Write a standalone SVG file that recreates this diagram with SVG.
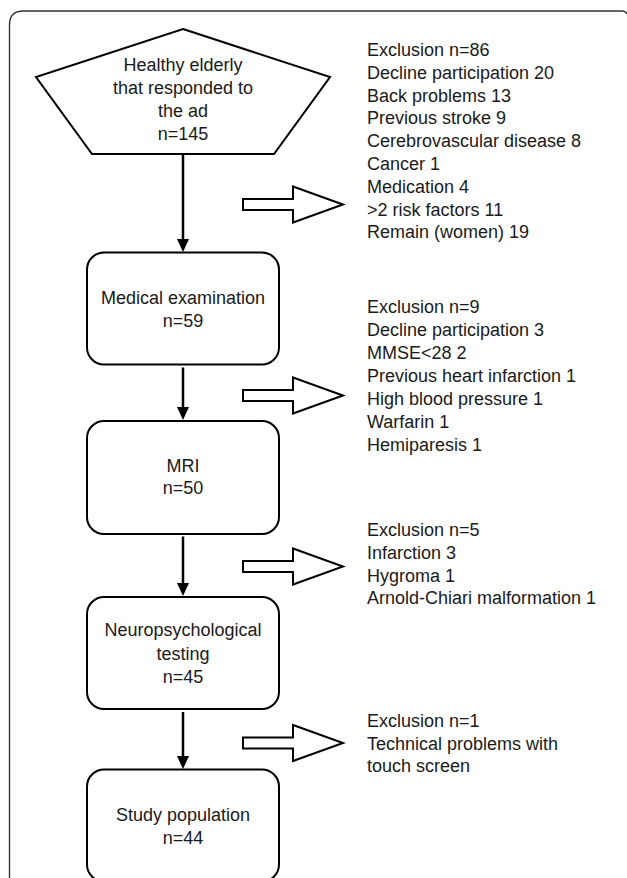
<svg xmlns="http://www.w3.org/2000/svg" width="627" height="878" viewBox="0 0 627 878">
<defs>
<style>
.t{font-family:"Liberation Sans",Arial,sans-serif;font-size:18px;fill:#1a1a1a}
.c{text-anchor:middle}
.box{fill:#fff;stroke:#000;stroke-width:2}
.flow{stroke:#000;stroke-width:2.5;fill:none}
.excl{fill:#fff;stroke:#000;stroke-width:2;stroke-linejoin:miter}
</style>
<marker id="ah" markerUnits="userSpaceOnUse" markerWidth="13" markerHeight="13" refX="9" refY="6" orient="auto">
<path d="M0,0 L13,6 L0,12 z" fill="#000"/>
</marker>
</defs>
<rect width="627" height="878" fill="#fff"/>
<path id="frame" d="M9.5 878 V25 Q9.5 11 23.5 11 H622 Q626 11 626.5 14" fill="none" stroke="#333" stroke-width="1.4"/>

<g id="connectors">
<line class="flow" x1="183" y1="154" x2="183" y2="248" marker-end="url(#ah)"/>
<line class="flow" x1="183" y1="367.5" x2="183" y2="416" marker-end="url(#ah)"/>
<line class="flow" x1="183" y1="536.5" x2="183" y2="592" marker-end="url(#ah)"/>
<line class="flow" x1="183" y1="712" x2="183" y2="765" marker-end="url(#ah)"/>
<polygon class="excl" points="243,199 293,199 293,186.5 343,204.5 293,222.5 293,210 243,210"/>
<polygon class="excl" points="243,390 293,390 293,377.5 343,395.5 293,413.5 293,401 243,401"/>
<polygon class="excl" points="243,561 293,561 293,548.5 343,566.5 293,584.5 293,572 243,572"/>
<polygon class="excl" points="243,737.5 293,737.5 293,725 343,743 293,761 293,748.5 243,748.5"/>
</g>

<g id="node-start">
<polygon class="box" points="183,29 330,77 274,154 92,154 36,77"/>
<text class="t c" x="183" y="70.5">Healthy elderly</text>
<text class="t c" x="183" y="93.5">that responded to</text>
<text class="t c" x="183" y="116.5">the ad</text>
<text class="t c" x="183" y="139.5">n=145</text>
</g>

<g id="node-medical">
<rect class="box" x="87" y="252.5" width="192" height="112" rx="17"/>
<text class="t c" x="183" y="303.5">Medical examination</text>
<text class="t c" x="183" y="326.5">n=59</text>
</g>

<g id="node-mri">
<rect class="box" x="87" y="421" width="192" height="113" rx="17"/>
<text class="t c" x="183" y="471.5">MRI</text>
<text class="t c" x="183" y="494">n=50</text>
</g>

<g id="node-neuro">
<rect class="box" x="87" y="597" width="192" height="112" rx="17"/>
<text class="t c" x="183" y="636">Neuropsychological</text>
<text class="t c" x="183" y="659.5">testing</text>
<text class="t c" x="183" y="682.5">n=45</text>
</g>

<g id="node-study">
<rect class="box" x="87" y="769.5" width="192" height="112" rx="17"/>
<text class="t c" x="183" y="821">Study population</text>
<text class="t c" x="183" y="844">n=44</text>
</g>

<g id="excl-1">
<text class="t" x="367" y="56">Exclusion n=86</text>
<text class="t" x="367" y="78.8">Decline participation 20</text>
<text class="t" x="367" y="101.6">Back problems 13</text>
<text class="t" x="367" y="124.4">Previous stroke 9</text>
<text class="t" x="367" y="147.2">Cerebrovascular disease 8</text>
<text class="t" x="367" y="170">Cancer 1</text>
<text class="t" x="367" y="192.8">Medication 4</text>
<text class="t" x="367" y="215.6">&gt;2 risk factors 11</text>
<text class="t" x="367" y="238.4">Remain (women) 19</text>
</g>

<g id="excl-2">
<text class="t" x="367" y="313">Exclusion n=9</text>
<text class="t" x="367" y="336">Decline participation 3</text>
<text class="t" x="367" y="359">MMSE&lt;28 2</text>
<text class="t" x="367" y="382">Previous heart infarction 1</text>
<text class="t" x="367" y="405">High blood pressure 1</text>
<text class="t" x="367" y="428">Warfarin 1</text>
<text class="t" x="367" y="451">Hemiparesis 1</text>
</g>

<g id="excl-3">
<text class="t" x="367" y="536">Exclusion n=5</text>
<text class="t" x="367" y="559">Infarction 3</text>
<text class="t" x="367" y="581.5">Hygroma 1</text>
<text class="t" x="367" y="604">Arnold-Chiari malformation 1</text>
</g>

<g id="excl-4">
<text class="t" x="367" y="726.5">Exclusion n=1</text>
<text class="t" x="367" y="749.5">Technical problems with</text>
<text class="t" x="367" y="772">touch screen</text>
</g>
</svg>
